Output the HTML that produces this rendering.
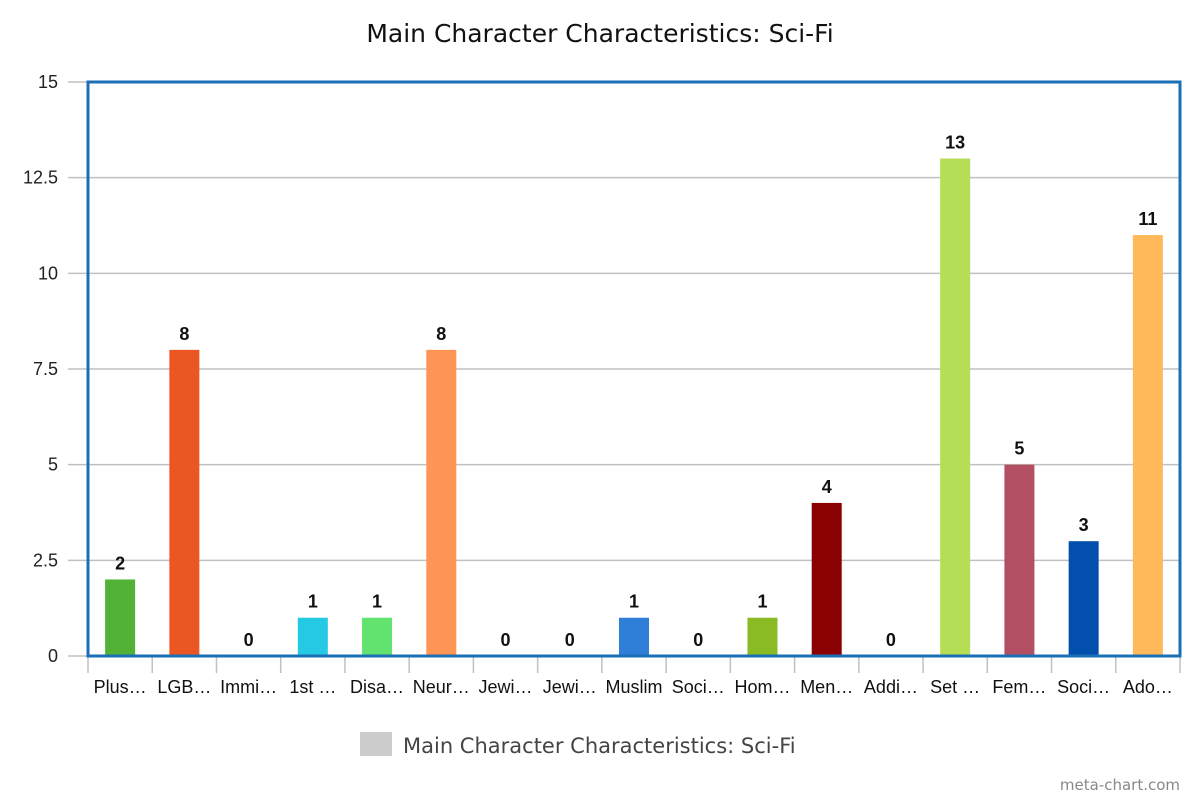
<!DOCTYPE html>
<html><head><meta charset="utf-8"><style>
body{margin:0;background:#fff;width:1200px;height:800px;overflow:hidden;font-family:"Liberation Sans",sans-serif}
</style></head><body>
<svg id="chart" width="1200" height="800" xmlns="http://www.w3.org/2000/svg">
<text x="600" y="42" text-anchor="middle" font-family="DejaVu Sans, Liberation Sans, sans-serif" font-size="25" fill="#111">Main Character Characteristics: Sci-Fi</text>
<g id="grid"></g><g id="bars"></g><g id="xlab"></g>
<rect x="88" y="82" width="1092" height="574" fill="none" stroke="#1a6fb7" stroke-width="3"/>
<rect x="360" y="732" width="32" height="24" fill="#cccccc"/>
<text x="403" y="753" font-family="DejaVu Sans, Liberation Sans, sans-serif" font-size="21" fill="#444">Main Character Characteristics: Sci-Fi</text>
<text x="1180" y="790" text-anchor="end" font-family="DejaVu Sans, Liberation Sans, sans-serif" font-size="15" fill="#888">meta-chart.com</text>
</svg>
<script>
const categories=["Plus…","LGB…","Immi…","1st …","Disa…","Neur…","Jewi…","Jewi…","Muslim","Soci…","Hom…","Men…","Addi…","Set …","Fem…","Soci…","Ado…"];
const values=[2,8,0,1,1,8,0,0,1,0,1,4,0,13,5,3,11];
const colors=["#52b236","#ec5623","#999","#26c9e3","#62e26f","#ff9555","#999","#999","#2f7ed8","#999","#8bbb24","#8b0000","#999","#b5dd56","#b34f63","#024fae","#ffb95a"];
const yTicks=[0,2.5,5,7.5,10,12.5,15];
const yTickLabels=["0","2.5","5","7.5","10","12.5","15"];
const NS="http://www.w3.org/2000/svg";
const L=88,R=1180,T=82,B=656,yMax=15;
const y=v=>B-(v/yMax)*(B-T);
const slot=(R-L)/categories.length;
const x=i=>L+slot*i;
function mk(tag,attrs,parent,txt){const e=document.createElementNS(NS,tag);for(const k in attrs)e.setAttribute(k,attrs[k]);if(txt!==undefined)e.textContent=txt;document.getElementById(parent).appendChild(e);return e;}
yTicks.forEach((t,i)=>{
  const ln=mk('line',{x1:68,x2:R,y1:y(t),y2:y(t),stroke:'#c0c0c0','stroke-width':1.5},'grid');
  
  
  const tx=mk('text',{x:58,y:y(t)+6,'text-anchor':'end','font-size':18,fill:'#222'},'grid',yTickLabels[i]);
  
  
});
for(let i=0;i<=categories.length;i++){
  const tk=mk('line',{x1:x(i),x2:x(i),y1:B,y2:673,stroke:'#c0c0c0','stroke-width':1.5},'grid');
  
  
}
categories.forEach((c,i)=>{
  const cx=x(i)+slot/2,v=values[i];
  if(v>0){
    const r=mk('rect',{x:cx-15,y:y(v),width:30,height:B-y(v),fill:colors[i]},'bars');
    
    
  }
  const vl=mk('text',{x:cx,y:y(v)-10,'text-anchor':'middle','font-size':18,'font-weight':'bold',fill:'#111'},'bars',String(v));
  
  
  const xl=mk('text',{x:cx,y:693,'text-anchor':'middle','font-size':18,fill:'#111'},'xlab',c);
  
  
});
</script>
</body></html>
